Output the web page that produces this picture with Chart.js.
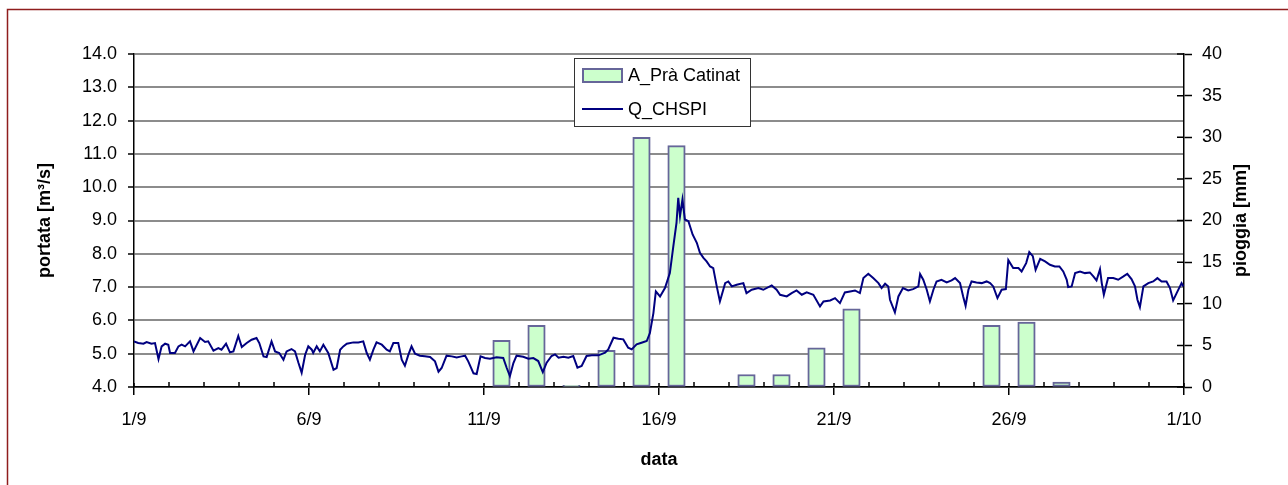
<!DOCTYPE html>
<html><head><meta charset="utf-8">
<script src="https://cdn.jsdelivr.net/npm/chart.js@4"></script>
<style>html,body{margin:0;padding:0;background:#fff;} #wrap{position:relative;width:1288px;height:485px;}</style>
</head><body><div id="wrap"><canvas id="c"></canvas></div>
<script>
// ---- data ----
const rainDates = ['1/9','2/9','3/9','4/9','5/9','6/9','7/9','8/9','9/9','10/9','11/9','12/9','13/9','14/9','15/9','16/9','17/9','18/9','19/9','20/9','21/9','22/9','23/9','24/9','25/9','26/9','27/9','28/9','29/9','30/9'];
const rainMm = [0,0,0,0,0,0,0,0,0,0,5.6,7.4,0.2,4.4,30,29,0,1.5,1.5,4.7,9.4,0,0,0,7.4,7.8,0.6,0,0,0];
const flowTime = [0.00,0.12,0.27,0.36,0.50,0.60,0.70,0.79,0.89,0.98,1.03,1.17,1.27,1.36,1.46,1.60,1.70,1.89,2.03,2.12,2.27,2.41,2.50,2.63,2.74,2.84,2.98,3.08,3.22,3.36,3.50,3.58,3.70,3.79,3.93,4.03,4.15,4.27,4.36,4.50,4.60,4.70,4.79,4.89,4.98,5.08,5.12,5.22,5.31,5.41,5.55,5.70,5.79,5.89,5.98,6.08,6.27,6.41,6.55,6.65,6.74,6.84,6.93,7.08,7.22,7.31,7.41,7.55,7.65,7.74,7.84,7.93,8.03,8.17,8.31,8.46,8.60,8.70,8.79,8.93,9.08,9.22,9.36,9.46,9.55,9.70,9.79,9.90,10.03,10.17,10.36,10.55,10.65,10.74,10.84,10.93,11.12,11.27,11.41,11.55,11.68,11.79,11.93,12.03,12.13,12.27,12.41,12.55,12.67,12.79,12.93,13.08,13.27,13.46,13.55,13.70,13.84,13.98,14.12,14.22,14.36,14.50,14.65,14.74,14.84,14.91,15.03,15.17,15.31,15.41,15.50,15.55,15.60,15.67,15.74,15.84,15.96,16.08,16.17,16.27,16.36,16.46,16.55,16.65,16.74,16.89,16.98,17.08,17.22,17.41,17.50,17.65,17.84,17.98,18.22,18.36,18.46,18.65,18.79,18.93,19.08,19.22,19.41,19.60,19.70,19.89,20.03,20.17,20.31,20.46,20.60,20.74,20.84,20.98,21.12,21.27,21.36,21.46,21.55,21.60,21.74,21.84,21.97,22.12,22.26,22.41,22.46,22.55,22.65,22.74,22.84,22.93,23.07,23.22,23.36,23.46,23.60,23.69,23.76,23.84,23.93,24.07,24.22,24.36,24.46,24.55,24.67,24.79,24.91,24.98,25.12,25.27,25.36,25.49,25.58,25.68,25.76,25.89,26.03,26.17,26.31,26.44,26.55,26.65,26.69,26.79,26.89,27.03,27.17,27.31,27.41,27.50,27.60,27.65,27.71,27.83,27.98,28.12,28.27,28.38,28.50,28.60,28.67,28.74,28.84,28.98,29.12,29.24,29.36,29.50,29.60,29.69,29.79,29.93,29.98];
const flowQ = [5.37,5.32,5.30,5.35,5.30,5.32,4.84,5.22,5.30,5.27,5.02,5.02,5.22,5.27,5.22,5.37,5.07,5.47,5.35,5.37,5.09,5.17,5.12,5.30,5.04,5.07,5.53,5.20,5.32,5.42,5.47,5.32,4.92,4.90,5.37,5.07,5.02,4.82,5.07,5.14,5.07,4.72,4.43,4.97,5.22,5.12,5.02,5.22,5.07,5.27,5.02,4.52,4.57,5.12,5.22,5.30,5.34,5.34,5.37,5.02,4.82,5.12,5.34,5.27,5.12,5.07,5.32,5.32,4.82,4.64,4.97,5.22,5.00,4.94,4.92,4.90,4.77,4.46,4.57,4.94,4.92,4.89,4.92,4.94,4.77,4.41,4.39,4.92,4.87,4.85,4.89,4.87,4.57,4.33,4.72,4.94,4.91,4.85,4.87,4.78,4.45,4.73,4.93,4.98,4.88,4.91,4.88,4.93,4.58,4.63,4.93,4.95,4.95,5.03,5.13,5.48,5.45,5.43,5.18,5.13,5.28,5.33,5.38,5.62,6.22,6.87,6.72,6.97,7.42,8.23,8.93,9.68,9.13,9.63,9.03,8.98,8.58,8.33,8.03,7.88,7.77,7.62,7.57,7.02,6.57,7.12,7.17,7.02,7.07,7.12,6.82,6.92,6.97,6.92,7.05,6.92,6.77,6.72,6.82,6.90,6.77,6.84,6.77,6.42,6.57,6.60,6.67,6.52,6.84,6.87,6.90,6.82,7.27,7.40,7.27,7.12,6.97,7.10,7.02,6.62,6.24,6.72,6.97,6.90,6.94,7.02,7.39,7.22,6.92,6.57,6.92,7.17,7.22,7.14,7.20,7.27,7.12,6.72,6.44,6.92,7.17,7.14,7.12,7.17,7.12,7.02,6.67,6.92,6.94,7.81,7.57,7.57,7.47,7.72,8.05,7.93,7.52,7.85,7.77,7.67,7.62,7.62,7.47,7.22,7.00,7.02,7.42,7.47,7.42,7.44,7.32,7.20,7.54,7.12,6.77,7.27,7.27,7.22,7.32,7.40,7.24,7.02,6.62,6.40,7.02,7.12,7.17,7.27,7.17,7.17,6.97,6.60,6.82,7.12,7.02];
const xTickLabels = ['1/9','6/9','11/9','16/9','21/9','26/9','1/10'];
const rainLabel = 'A_Prà Catinat';
const flowLabel = 'Q_CHSPI';
const leftTitle = 'portata [m³/s]';
const rightTitle = 'pioggia [mm]';
const bottomTitle = 'data';

// ---- chart ----
const FONT = "'Liberation Sans', Arial, sans-serif";
Chart.defaults.font.family = FONT;
Chart.defaults.font.size = 18;
Chart.defaults.color = '#000';

const decor = {
  id: 'decor',
  afterDraw(chart) {
    const ctx = chart.ctx;
    const xs = chart.scales.x, yr = chart.scales.yP;
    const a = chart.chartArea;
    ctx.save();
    ctx.strokeStyle = '#000';
    ctx.lineWidth = 1.5;
    ctx.beginPath();
    for (let d = 0; d <= rainDates.length; d++) {
      const x = xs.getPixelForValue(d);
      ctx.moveTo(x, a.bottom);
      ctx.lineTo(x, a.bottom - (d % 5 === 0 ? 4 : 5));
    }
    yr.ticks.forEach(t => {
      const y = yr.getPixelForValue(t.value);
      ctx.moveTo(a.right - 7, y);
      ctx.lineTo(a.right, y);
    });
    ctx.stroke();

    // right axis title (reads bottom to top)
    ctx.save();
    ctx.translate(1241, (a.top + a.bottom) / 2);
    ctx.rotate(-Math.PI / 2);
    ctx.font = 'bold 18px ' + FONT;
    ctx.textAlign = 'center';
    ctx.textBaseline = 'middle';
    ctx.fillStyle = '#000';
    ctx.fillText(rightTitle, 0, 0);
    ctx.restore();

    // legend
    const bar = chart.data.datasets[1], line = chart.data.datasets[0];
    ctx.fillStyle = '#fff';
    ctx.fillRect(574, 58, 176, 68);
    ctx.strokeStyle = '#333';
    ctx.lineWidth = 1;
    ctx.strokeRect(574.5, 58.5, 176, 68);
    ctx.fillStyle = bar.backgroundColor;
    ctx.fillRect(582, 68, 41, 15);
    ctx.strokeStyle = bar.borderColor;
    ctx.lineWidth = 2;
    ctx.strokeRect(583, 69, 39, 13);
    ctx.strokeStyle = line.borderColor;
    ctx.lineWidth = 2;
    ctx.beginPath();
    ctx.moveTo(582, 109); ctx.lineTo(623, 109);
    ctx.stroke();
    ctx.fillStyle = '#000';
    ctx.font = '18px ' + FONT;
    ctx.textAlign = 'left';
    ctx.textBaseline = 'middle';
    ctx.fillText(bar.label, 628, 76);
    ctx.fillText(line.label, 628, 110);

    // outer frame
    ctx.strokeStyle = '#8f1d1d';
    ctx.lineWidth = 1.5;
    ctx.strokeRect(7.5, 9.5, 1400, 600);
    ctx.restore();
  }
};

new Chart(document.getElementById('c'), {
  type: 'bar',
  data: {
    datasets: [
      {
        type: 'line',
        label: flowLabel,
        data: flowTime.map((t, i) => ({x: t, y: flowQ[i]})),
        yAxisID: 'yQ',
        borderColor: '#000080',
        borderWidth: 2,
        pointRadius: 0,
        tension: 0,
        fill: false,
        order: 0
      },
      {
        type: 'bar',
        label: rainLabel,
        data: rainMm.map((v, i) => ({x: i + 0.5, y: v})),
        yAxisID: 'yP',
        backgroundColor: '#ccffcc',
        borderColor: '#666699',
        borderWidth: 2,
        borderSkipped: false,
        barThickness: 17.5,
        order: 1
      }
    ]
  },
  options: {
    responsive: true,
    maintainAspectRatio: false,
    animation: false,
    devicePixelRatio: 1,
    layout: {padding: {top: 54, left: 0, right: 0, bottom: 0}},
    plugins: {legend: {display: false}, tooltip: {enabled: false}},
    scales: {
      x: {
        type: 'linear',
        min: 0, max: 30,
        offset: false,
        afterFit: s => { s.height = 98; },
        grid: {display: true, drawOnChartArea: false, drawTicks: true, tickLength: 8, color: '#000', lineWidth: 1.5, offset: false},
        border: {display: true, color: '#000', width: 1.5},
        ticks: {stepSize: 5, autoSkip: false, maxRotation: 0, padding: 14,
          callback: v => xTickLabels[Math.round(v / 5)]},
        title: {display: true, text: bottomTitle, font: {weight: 'bold', size: 18}, padding: {top: 0, bottom: 14}}
      },
      yQ: {
        type: 'linear',
        position: 'left',
        min: 4, max: 14,
        afterFit: s => { s.width = 134; },
        grid: {color: '#8c8c8c', lineWidth: 2, tickColor: '#000', tickWidth: 1.5, tickLength: 6, z: -1},
        border: {display: true, color: '#000', width: 1.5},
        ticks: {stepSize: 1, padding: 11, callback: v => v.toFixed(1)},
        title: {display: true, text: leftTitle, font: {weight: 'bold', size: 18}, padding: {top: 34, bottom: 0}}
      },
      yP: {
        type: 'linear',
        position: 'right',
        min: 0, max: 40,
        afterFit: s => { s.width = 104; },
        grid: {drawOnChartArea: false, tickColor: '#000', tickWidth: 1.5, tickLength: 8},
        border: {display: true, color: '#000', width: 1.5},
        ticks: {stepSize: 5, padding: 10}
      }
    }
  },
  plugins: [decor]
});
</script>
</body></html>
